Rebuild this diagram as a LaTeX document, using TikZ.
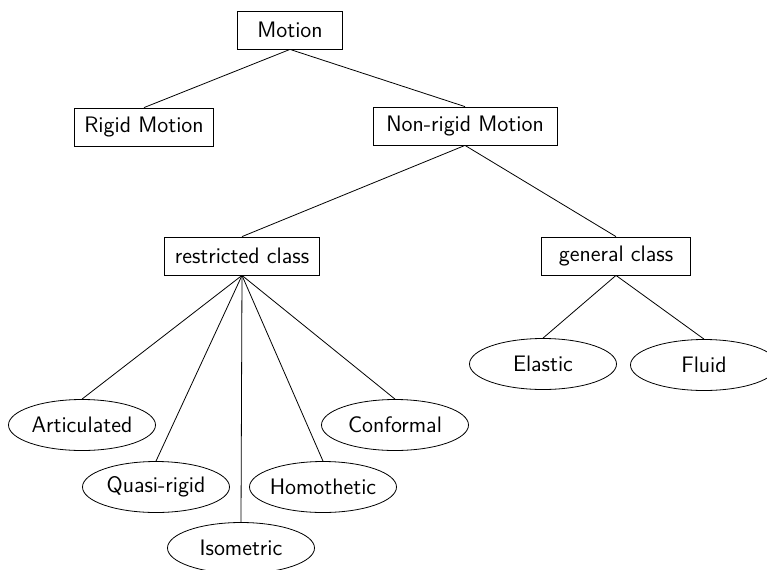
\documentclass[tikz,border=0pt]{standalone}
\usepackage{tikz}
\usetikzlibrary{shapes}

\begin{document}
\begin{tikzpicture}[x=0.5pt,y=-0.5pt,font=\sffamily\fontsize{11.2}{13}\selectfont,
    box/.style={draw,rectangle,minimum height=19pt,inner xsep=5pt},
    oval/.style={draw,ellipse,minimum width=73.5pt,minimum height=25.5pt,inner xsep=-1.5pt,inner ysep=0pt}]
    \useasboundingbox (0,0) rectangle (767,569);
    % boxes
    \node[box,minimum width=52.5pt] (motion) at (290,30) {Motion};
    \node[box] (rigid) at (144,127) {Rigid Motion};
    \node[box,minimum width=92pt] (nonrigid) at (465,126) {Non-rigid Motion};
    \node[box] (restricted) at (242,256) {restricted class};
    \node[box,minimum width=74.5pt] (general) at (616,256) {general class};
    % ellipses
    \node[oval] (articulated) at (82,425) {Articulated};
    \node[oval] (quasi) at (156,487) {Quasi-rigid};
    \node[oval] (isometric) at (241,548) {Isometric};
    \node[oval] (homothetic) at (323,487) {Homothetic};
    \node[oval] (conformal) at (395,425) {Conformal};
    \node[oval] (elastic) at (543,364) {Elastic};
    \node[oval] (fluid) at (704,365) {Fluid};
    % lines
    \draw (motion.south)--(rigid.north);
    \draw (motion.south)--(nonrigid.north);
    \draw (nonrigid.south)--(restricted.north);
    \draw (nonrigid.south)--(general.north);
    \foreach \k in {articulated,quasi,isometric,homothetic,conformal}
        \draw (restricted.south)--(\k.north);
    \draw (general.south)--(elastic.north);
    \draw (general.south)--(fluid.north);
\end{tikzpicture}
\end{document}
